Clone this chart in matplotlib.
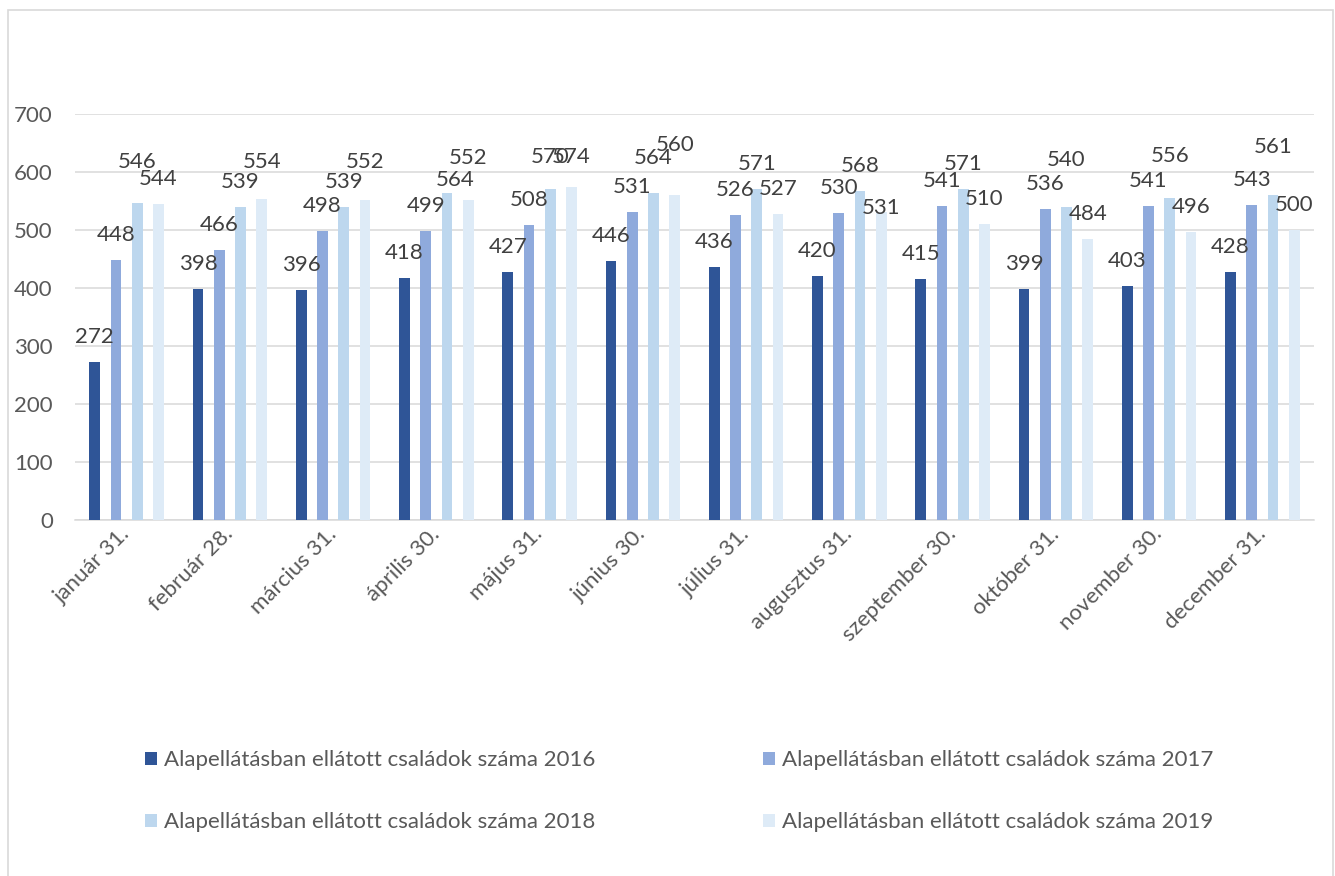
import matplotlib
matplotlib.use("Agg")
import matplotlib.pyplot as plt
from matplotlib.patches import Rectangle, Patch
import numpy as np

categories = ["január 31.", "február 28.", "március 31.", "április 30.", "május 31.",
              "június 30.", "július 31.", "augusztus 31.", "szeptember 30.", "október 31.",
              "november 30.", "december 31."]
series_names = ["Alapellátásban ellátott családok száma 2016",
                "Alapellátásban ellátott családok száma 2017",
                "Alapellátásban ellátott családok száma 2018",
                "Alapellátásban ellátott családok száma 2019"]
v2016 = [272, 398, 396, 418, 427, 446, 436, 420, 415, 399, 403, 428]
v2017 = [448, 466, 498, 499, 508, 531, 526, 530, 541, 536, 541, 543]
v2018 = [546, 539, 539, 564, 570, 564, 571, 568, 571, 540, 556, 561]
v2019 = [544, 554, 552, 552, 574, 560, 527, 531, 510, 484, 496, 500]
yticks = [0, 100, 200, 300, 400, 500, 600, 700]

colors = ["#2F5597", "#8FAADC", "#BDD7EE", "#DEEBF7"]
# label vertical nudges (pixels) for labels that Excel displaced: (series, category) -> px
label_nudge = {(2, 0): 16, (3, 1): 12, (3, 2): 13, (2, 3): -12, (3, 3): 17,
               (2, 4): 7, (3, 4): 5, (2, 5): 10, (3, 5): 25, (3, 7): -21,
               (2, 9): 22, (2, 10): 17, (2, 11): 23}
label_xnudge = {(2, 3): 8}

FS = 16
W, H = 1335, 876
fig = plt.figure(figsize=(W / 100, H / 100), dpi=100)
plt.rcParams['font.family'] = ['Lato', 'DejaVu Sans']

ax = fig.add_axes([75 / W, 1 - 520 / H, (1314 - 75) / W, (520 - 114) / H])
series = [v2016, v2017, v2018, v2019]
x = np.arange(len(categories))
step = 0.206
width = 0.104
for si, vals in enumerate(series):
    off = (si - 1.5) * step
    ax.bar(x + off, vals, width=width, color=colors[si], label=series_names[si], zorder=3)
    for ci, v in enumerate(vals):
        dy = 25 + label_nudge.get((si, ci), 0)
        dx = label_xnudge.get((si, ci), 0)
        ax.annotate(str(v), (x[ci] + off, v), xytext=(dx * 0.72, dy * 0.72),
                    textcoords="offset points", ha="center", va="center",
                    fontsize=FS, color="#404040", zorder=4)

ax.set_xlim(-0.5, len(categories) - 0.5)
ax.set_ylim(0, 700)
ax.set_yticks(yticks)
ax.set_yticklabels([str(t) for t in yticks])
ax.yaxis.grid(True, color="#d9d9d9", linewidth=1.1, zorder=0)
ax.set_axisbelow(True)
for s in ["top", "right", "left"]:
    ax.spines[s].set_visible(False)
ax.spines["bottom"].set_color("#d9d9d9")
ax.spines["bottom"].set_linewidth(1.1)
ax.tick_params(axis="y", length=0, pad=16, labelsize=FS, labelcolor="#595959")
ax.tick_params(axis="x", length=0, pad=8, labelsize=FS, labelcolor="#595959")
ax.set_xticks(x)
ax.set_xticklabels(categories, rotation=45, ha="right", va="center", rotation_mode="anchor")

# legends: two columns
handles = [Patch(facecolor=c, edgecolor="none") for c in colors]
kw = dict(frameon=False, fontsize=FS, labelcolor="#595959", handlelength=0.54,
          handleheight=0.54, handletextpad=0.32, labelspacing=1.9, borderpad=0,
          borderaxespad=0, loc="upper left")
leg1 = fig.legend([handles[0], handles[2]], [series_names[0], series_names[2]],
                  bbox_to_anchor=(145 / W, 1 - 750 / H), **kw)
leg2 = fig.legend([handles[1], handles[3]], [series_names[1], series_names[3]],
                  bbox_to_anchor=(763 / W, 1 - 750 / H), **kw)

# chart border
fig.patches.append(Rectangle((8 / W, -0.05), (1333 - 8) / W, 1.05 - 10 / H,
                             transform=fig.transFigure, fill=False,
                             edgecolor="#d9d9d9", linewidth=1.2))

fig.savefig("out.png", dpi=100)
